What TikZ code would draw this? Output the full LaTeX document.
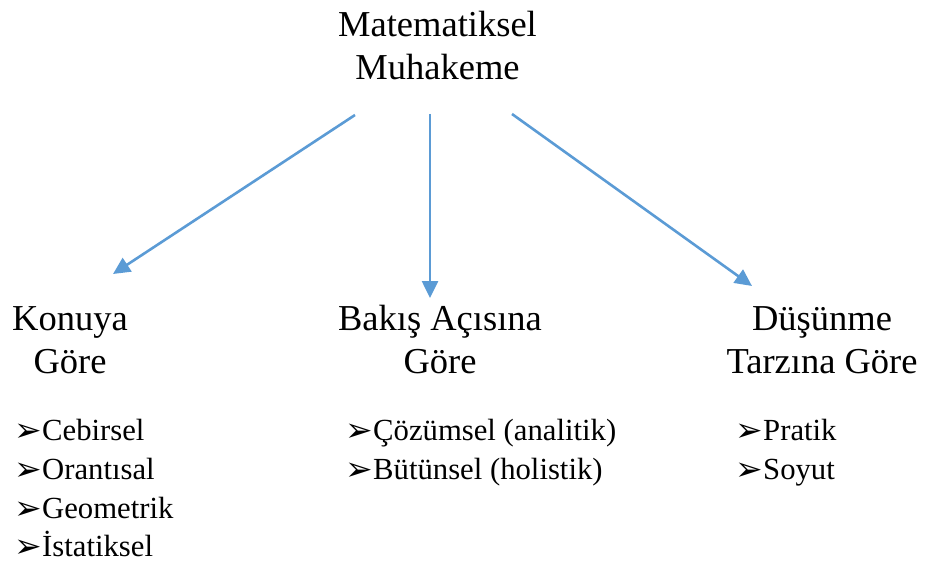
\documentclass[tikz,border=0pt]{standalone}
\usepackage{fontspec}
\setmainfont{Liberation Serif}
\newfontfamily\dejavu{DejaVu Sans}
\usetikzlibrary{arrows.meta}
\definecolor{arrowblue}{HTML}{5B9BD5}
\newcommand{\mybullet}{\makebox[28pt][l]{\raisebox{-1pt}{\dejavu\fontsize{33}{33}\selectfont ➢}}}
\begin{document}
\begin{tikzpicture}[x=1pt,y=-1pt,
  head/.style={font=\fontsize{36.5}{43}\selectfont, align=center, inner sep=0pt, anchor=base},
  item/.style={font=\fontsize{30.7}{40}\selectfont, inner sep=0pt, anchor=base west},
  conn/.style={draw=arrowblue, line width=2.6pt, -{Triangle[length=17pt,width=16pt]}}]
\useasboundingbox (0,0) rectangle (926,564);
% headings (anchor = baseline of the last line)
\node[head] (top) at (437.5,80) {Matematiksel\\Muhakeme};
\node[head] (konu) at (70,373) {Konuya\\Göre};
\node[head] (bakis) at (440,373) {Bakış Açısına\\Göre};
\node[head] (dusun) at (822,373) {Düşünme\\Tarzına Göre};
% connector ends
\coordinate (s1) at (355,115);
\coordinate (e1) at (113,274);
\coordinate (s2) at (430,114);
\coordinate (e2) at (430,298);
\coordinate (s3) at (512,114);
\coordinate (e3) at (752,286);
\draw[conn] (s1) -- (e1);
\draw[conn] (s2) -- (e2);
\draw[conn] (s3) -- (e3);
% lists
\node[item] (k1) at (14,440) {\mybullet Cebirsel};
\node[item] (k2) at (14,479) {\mybullet Orantısal};
\node[item] (k3) at (14,518) {\mybullet Geometrik};
\node[item] (k4) at (14,556) {\mybullet İstatiksel};
\node[item] (b1) at (345,440) {\mybullet Çözümsel (analitik)};
\node[item] (b2) at (345,479) {\mybullet Bütünsel (holistik)};
\node[item] (d1) at (735,440) {\mybullet Pratik};
\node[item] (d2) at (735,479) {\mybullet Soyut};
\end{tikzpicture}
\end{document}
